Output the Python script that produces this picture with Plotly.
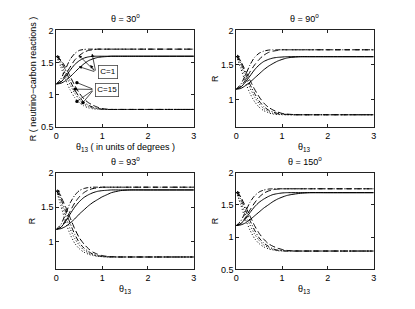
import plotly.graph_objects as go

# ---------------- data ----------------
X = [0, 0.1, 0.2, 0.3, 0.4, 0.5, 0.6, 0.7, 0.8, 0.9, 1.0, 1.1, 1.2, 1.4, 1.6, 2.0, 3.0]

titles = ["θ = 30<sup>o</sup>", "θ = 90<sup>o</sup>", "θ = 93<sup>o</sup>", "θ = 150<sup>o</sup>"]
x_ticks = [0, 1, 2, 3]
y_ticks = [0.5, 1, 1.5, 2]
y_ranges = [[0.5, 2], [0.6, 2], [0.6, 2], [0.5, 2]]

# theta = 30
p30_solid_fast = [1.17, 1.20, 1.28, 1.38, 1.47, 1.53, 1.57, 1.59, 1.60, 1.60, 1.60, 1.60, 1.60, 1.60, 1.60, 1.60, 1.60]
p30_solid_slow = [1.17, 1.18, 1.22, 1.28, 1.35, 1.42, 1.48, 1.53, 1.56, 1.58, 1.59, 1.595, 1.60, 1.60, 1.60, 1.60, 1.60]
p30_dashdot_up = [1.17, 1.25, 1.40, 1.55, 1.64, 1.69, 1.705, 1.71, 1.71, 1.71, 1.71, 1.71, 1.71, 1.71, 1.71, 1.71, 1.71]
p30_dashed_up = [1.17, 1.21, 1.31, 1.43, 1.54, 1.61, 1.66, 1.69, 1.70, 1.71, 1.71, 1.71, 1.71, 1.71, 1.71, 1.71, 1.71]
p30_dotted_fast = [1.60, 1.43, 1.24, 1.08, 0.96, 0.88, 0.83, 0.80, 0.785, 0.78, 0.775, 0.775, 0.775, 0.775, 0.775, 0.775, 0.775]
p30_dotted_mid = [1.60, 1.48, 1.32, 1.16, 1.03, 0.93, 0.86, 0.82, 0.80, 0.785, 0.78, 0.775, 0.775, 0.775, 0.775, 0.775, 0.775]
p30_dashdot_down = [1.60, 1.52, 1.38, 1.22, 1.08, 0.97, 0.89, 0.84, 0.81, 0.79, 0.78, 0.775, 0.775, 0.775, 0.775, 0.775, 0.775]
p30_dashed_down = [1.60, 1.54, 1.43, 1.29, 1.15, 1.03, 0.94, 0.88, 0.84, 0.81, 0.79, 0.78, 0.775, 0.775, 0.775, 0.775, 0.775]

# theta = 90
p90_solid_fast = [1.15, 1.18, 1.25, 1.34, 1.43, 1.50, 1.55, 1.58, 1.60, 1.61, 1.615, 1.62, 1.62, 1.62, 1.62, 1.62, 1.62]
p90_solid_slow = [1.15, 1.16, 1.20, 1.25, 1.31, 1.37, 1.43, 1.48, 1.52, 1.555, 1.58, 1.60, 1.61, 1.62, 1.62, 1.62, 1.62]
p90_dashdot_up = [1.15, 1.22, 1.35, 1.50, 1.61, 1.67, 1.70, 1.715, 1.72, 1.72, 1.72, 1.72, 1.72, 1.72, 1.72, 1.72, 1.72]
p90_dashed_up = [1.15, 1.19, 1.28, 1.40, 1.50, 1.58, 1.64, 1.68, 1.70, 1.71, 1.72, 1.72, 1.72, 1.72, 1.72, 1.72, 1.72]
p90_dotted_fast = [1.63, 1.45, 1.25, 1.09, 0.97, 0.89, 0.84, 0.81, 0.79, 0.785, 0.78, 0.78, 0.78, 0.78, 0.78, 0.78, 0.78]
p90_dotted_mid = [1.63, 1.50, 1.33, 1.17, 1.04, 0.94, 0.87, 0.83, 0.80, 0.79, 0.785, 0.78, 0.78, 0.78, 0.78, 0.78, 0.78]
p90_dashdot_down = [1.63, 1.53, 1.38, 1.22, 1.09, 0.98, 0.90, 0.85, 0.82, 0.80, 0.79, 0.785, 0.78, 0.78, 0.78, 0.78, 0.78]
p90_dashed_down = [1.63, 1.55, 1.42, 1.28, 1.15, 1.04, 0.95, 0.89, 0.85, 0.82, 0.80, 0.79, 0.785, 0.78, 0.78, 0.78, 0.78]

# theta = 93
p93_solid_fast = [1.18, 1.21, 1.29, 1.40, 1.50, 1.58, 1.64, 1.68, 1.71, 1.73, 1.74, 1.745, 1.75, 1.75, 1.75, 1.75, 1.75]
p93_solid_slow = [1.18, 1.19, 1.22, 1.27, 1.33, 1.40, 1.46, 1.52, 1.57, 1.61, 1.65, 1.68, 1.71, 1.74, 1.75, 1.75, 1.75]
p93_dashdot_up = [1.18, 1.25, 1.40, 1.56, 1.67, 1.74, 1.77, 1.785, 1.79, 1.79, 1.79, 1.79, 1.79, 1.79, 1.79, 1.79, 1.79]
p93_dashed_up = [1.18, 1.21, 1.31, 1.44, 1.56, 1.65, 1.71, 1.75, 1.77, 1.78, 1.79, 1.79, 1.79, 1.79, 1.79, 1.79, 1.79]
p93_dotted_fast = [1.74, 1.52, 1.29, 1.11, 0.98, 0.90, 0.85, 0.82, 0.80, 0.79, 0.785, 0.78, 0.78, 0.78, 0.78, 0.78, 0.78]
p93_dotted_mid = [1.74, 1.58, 1.38, 1.19, 1.05, 0.95, 0.88, 0.84, 0.81, 0.795, 0.785, 0.78, 0.78, 0.78, 0.78, 0.78, 0.78]
p93_dashdot_down = [1.74, 1.62, 1.45, 1.27, 1.11, 0.99, 0.91, 0.86, 0.82, 0.80, 0.79, 0.785, 0.78, 0.78, 0.78, 0.78, 0.78]
p93_dashed_down = [1.74, 1.65, 1.51, 1.35, 1.19, 1.06, 0.97, 0.90, 0.85, 0.82, 0.80, 0.79, 0.785, 0.78, 0.78, 0.78, 0.78]

# theta = 150
p150_solid_fast = [1.18, 1.21, 1.28, 1.38, 1.47, 1.54, 1.59, 1.63, 1.66, 1.675, 1.685, 1.69, 1.69, 1.69, 1.69, 1.69, 1.69]
p150_solid_slow = [1.18, 1.19, 1.22, 1.27, 1.33, 1.39, 1.45, 1.50, 1.55, 1.59, 1.62, 1.645, 1.66, 1.68, 1.69, 1.69, 1.69]
p150_dashdot_up = [1.18, 1.25, 1.39, 1.54, 1.64, 1.70, 1.73, 1.745, 1.75, 1.75, 1.75, 1.75, 1.75, 1.75, 1.75, 1.75, 1.75]
p150_dashed_up = [1.18, 1.21, 1.30, 1.42, 1.53, 1.62, 1.68, 1.715, 1.735, 1.745, 1.75, 1.75, 1.75, 1.75, 1.75, 1.75, 1.75]
p150_dotted_fast = [1.70, 1.50, 1.28, 1.11, 0.98, 0.90, 0.85, 0.82, 0.80, 0.79, 0.785, 0.785, 0.785, 0.785, 0.785, 0.785, 0.785]
p150_dotted_mid = [1.70, 1.55, 1.36, 1.19, 1.05, 0.95, 0.88, 0.84, 0.81, 0.795, 0.79, 0.785, 0.785, 0.785, 0.785, 0.785, 0.785]
p150_dashdot_down = [1.70, 1.59, 1.43, 1.26, 1.11, 0.99, 0.91, 0.86, 0.82, 0.80, 0.79, 0.785, 0.785, 0.785, 0.785, 0.785, 0.785]
p150_dashed_down = [1.70, 1.62, 1.48, 1.33, 1.18, 1.06, 0.97, 0.90, 0.86, 0.83, 0.81, 0.795, 0.79, 0.785, 0.785, 0.785, 0.785]

panels = [
    [p30_solid_fast, p30_solid_slow, p30_dashdot_up, p30_dashed_up,
     p30_dotted_fast, p30_dotted_mid, p30_dashdot_down, p30_dashed_down],
    [p90_solid_fast, p90_solid_slow, p90_dashdot_up, p90_dashed_up,
     p90_dotted_fast, p90_dotted_mid, p90_dashdot_down, p90_dashed_down],
    [p93_solid_fast, p93_solid_slow, p93_dashdot_up, p93_dashed_up,
     p93_dotted_fast, p93_dotted_mid, p93_dashdot_down, p93_dashed_down],
    [p150_solid_fast, p150_solid_slow, p150_dashdot_up, p150_dashed_up,
     p150_dotted_fast, p150_dotted_mid, p150_dashdot_down, p150_dashed_down],
]

# ---------------- styles ----------------
dashes = ["solid", "solid", "5px,2px,1px,2px", "6px,3px",
          "1px,2px", "1px,2px", "5px,2px,1px,2px", "6px,3px"]
FONT = "Liberation Sans, Arial, sans-serif"

# page body has an 8px margin, so domains are computed from (pixel - 8)
x_domains = [[0.1108, 0.4470], [0.5506, 0.8867], [0.1108, 0.4470], [0.5506, 0.8867]]
y_domains = [[0.6181, 0.9417], [0.6181, 0.9417], [0.1424, 0.4660], [0.1424, 0.4660]]
ylabel_shift = [-24, -21, -24, -21]

fig = go.Figure()
layout = dict(
    width=415, height=309,
    margin=dict(l=0, r=0, t=0, b=0),
    paper_bgcolor="white", plot_bgcolor="white",
    showlegend=False,
    font=dict(family=FONT, size=9, color="black"),
)

annotations = []
for i, curves in enumerate(panels):
    n = "" if i == 0 else str(i + 1)
    xa, ya = "x" + n, "y" + n
    for vals, d in zip(curves, dashes):
        fig.add_trace(go.Scatter(
            x=X, y=vals, mode="lines", xaxis=xa, yaxis=ya,
            line=dict(color="black", width=1, dash=d, shape="spline", smoothing=0.6),
            hoverinfo="skip"))
    axcommon = dict(showgrid=False, zeroline=False, showline=True, linecolor="#222",
                    linewidth=1, mirror="allticks", ticks="inside", ticklen=3,
                    tickcolor="#222", tickfont=dict(size=9, family=FONT))
    layout["xaxis" + n] = dict(axcommon, domain=x_domains[i], range=[0, 3],
                              tickvals=x_ticks, anchor=ya)
    layout["yaxis" + n] = dict(axcommon, domain=y_domains[i], range=y_ranges[i],
                              tickvals=y_ticks, anchor=xa)
    # title
    annotations.append(dict(text=titles[i], xref=xa + " domain", yref=ya + " domain",
                            x=0.5, y=1, yshift=12, xanchor="center", yanchor="middle",
                            showarrow=False, font=dict(size=9, family=FONT)))
    # x label
    xl = "θ<sub>13</sub> ( in units of degrees )" if i == 0 else "θ<sub>13</sub>"
    annotations.append(dict(text=xl, xref=xa + " domain", yref=ya + " domain",
                            x=0.5, y=0, yshift=-20, xanchor="center", yanchor="middle",
                            showarrow=False, font=dict(size=9, family=FONT)))
    # y label
    yl = "R ( neutrino−carbon reactions )" if i == 0 else "R"
    annotations.append(dict(text=yl, xref=xa + " domain", yref=ya + " domain",
                            x=0, xshift=ylabel_shift[i], y=0.5, textangle=-90,
                            xanchor="center", yanchor="middle", showarrow=False,
                            font=dict(size=9, family=FONT)))
    # small arrow near origin
    y0 = curves[4][0]
    annotations.append(dict(text="", xref=xa, yref=ya, axref=xa, ayref=ya,
                            x=0.02, y=y0 + 0.02, ax=0.12, ay=y0 - 0.1,
                            showarrow=True, arrowhead=2, arrowsize=0.8,
                            arrowwidth=0.8, arrowcolor="black"))

# C labels in first panel
c1_tail = (0.86, 1.355)
c15_tail = (0.82, 1.085)
c1_heads = [(0.49, 1.615), (0.78, 1.64), (0.49, 1.44), (0.74, 1.465)]
c15_heads = [(0.45, 1.19), (0.41, 1.09), (0.45, 0.90), (0.58, 0.88)]
for hx, hy in c1_heads:
    annotations.append(dict(text="", xref="x", yref="y", axref="x", ayref="y",
                            x=hx, y=hy, ax=c1_tail[0], ay=c1_tail[1], showarrow=True,
                            arrowhead=2, arrowsize=0.9, arrowwidth=0.7, arrowcolor="black"))
for hx, hy in c15_heads:
    annotations.append(dict(text="", xref="x", yref="y", axref="x", ayref="y",
                            x=hx, y=hy, ax=c15_tail[0], ay=c15_tail[1], showarrow=True,
                            arrowhead=6, arrowsize=1.2, arrowwidth=0.7, arrowcolor="black"))
annotations.append(dict(text="C=1", xref="x", yref="y", x=1.12, y=1.35, showarrow=False,
                        bordercolor="#444", borderwidth=0.8, borderpad=1.5, bgcolor="white",
                        font=dict(size=8, family=FONT)))
annotations.append(dict(text="C=15", xref="x", yref="y", x=1.11, y=1.08, showarrow=False,
                        bordercolor="#444", borderwidth=0.8, borderpad=1.5, bgcolor="white",
                        font=dict(size=8, family=FONT)))

layout["annotations"] = annotations
fig.update_layout(**layout)
fig.write_html("out.html")
